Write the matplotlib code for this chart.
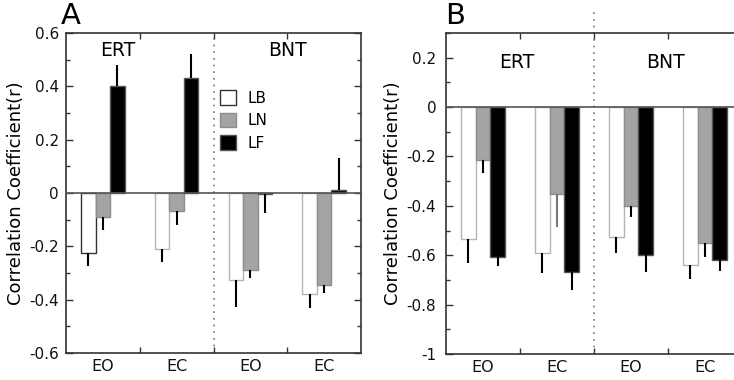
import matplotlib
matplotlib.use("Agg")
import matplotlib.pyplot as plt
import numpy as np

conditions = ["EO", "EC", "EO", "EC"]
tasks = ["ERT", "BNT"]
series = ["LB", "LN", "LF"]

# Panel A values (groups: ERT-EO, ERT-EC, BNT-EO, BNT-EC)
a_LB = [-0.226, -0.21, -0.326, -0.38]
a_LN = [-0.091, -0.066, -0.288, -0.344]
a_LF = [0.40, 0.432, -0.005, 0.012]
a_LB_err = [0.047, 0.05, 0.10, 0.05]
a_LN_err = [0.047, 0.055, 0.03, 0.03]
a_LF_err = [0.08, 0.088, 0.07, 0.12]

# Panel B values
b_LB = [-0.534, -0.59, -0.525, -0.638]
b_LN = [-0.215, -0.354, -0.401, -0.55]
b_LF = [-0.608, -0.666, -0.601, -0.619]
b_LB_err = [0.097, 0.08, 0.065, 0.058]
b_LN_err = [0.05, 0.13, 0.045, 0.058]
b_LF_err = [0.036, 0.073, 0.068, 0.046]

a_ticks = [0.6, 0.4, 0.2, 0, -0.2, -0.4, -0.6]
b_ticks = [0.2, 0, -0.2, -0.4, -0.6, -0.8, -1]

plt.rcParams['font.family'] = ['DejaVu Sans']

W, H = 734, 380
fig = plt.figure(figsize=(W / 100, H / 100), dpi=100)

fill = {"LB": "white", "LN": "#a4a4a4", "LF": "black"}
edge = {"LB": "#b4b4b4", "LN": "#8e8e8e", "LF": "#555555"}
bw = 0.197


def fmt(v):
    if v == 0:
        return "0"
    s = f"{v:.1f}"
    if s.endswith(".0"):
        s = s[:-2]
    return s


def panel(ax, vals, errs, ylim, ticks, txt_pos, dot_top, errcolors=None, edge_over=None):
    ax.set_xlim(0, 4)
    ax.set_ylim(*ylim)
    x = np.arange(4) + 0.5
    for k, s in enumerate(series):
        xs = x + (k - 1) * bw
        ec = [edge[s]] * 4
        if edge_over and s in edge_over:
            for i, c in edge_over[s].items():
                ec[i] = c
        ax.bar(xs, vals[k], width=bw, color=fill[s], edgecolor=ec, linewidth=1.0, zorder=3, label=s)
        for i in range(4):
            v = vals[k][i]
            e = errs[k][i]
            sgn = 1 if v >= 0 else -1
            col = "black"
            if errcolors and (k, i) in errcolors:
                col = errcolors[(k, i)]
            ax.plot([xs[i], xs[i]], [v, v + sgn * e], color=col, lw=1.5, zorder=4, solid_capstyle='butt')
    ax.axhline(0, color="#555555", lw=1.2, zorder=5)
    ax.plot([2, 2], [ylim[0], dot_top], color="#777777", lw=1.2, ls=(0, (1, 3)), clip_on=False, zorder=2)
    ax.set_yticks(ticks)
    ax.set_yticklabels([fmt(t) for t in ticks], fontsize=11, color="#111111")
    mn = np.arange(ylim[0], ylim[1] + 1e-9, 0.1)
    ax.set_yticks(mn, minor=True)
    ax.set_xticks([1, 2, 3])
    ax.set_xticklabels([])
    ax.set_xticks(x, minor=True)
    ax.set_xticklabels(conditions, minor=True, fontsize=11.5)
    ax.tick_params(axis='x', which='minor', length=0, pad=4)
    ax.tick_params(axis='both', which='both', direction='in', top=True, right=True, width=1.0, colors="#333333", labelcolor="#111111")
    ax.tick_params(axis='y', which='major', length=5, pad=5)
    ax.tick_params(axis='y', which='minor', length=3)
    ax.tick_params(axis='x', which='major', length=4)
    for sp in ax.spines.values():
        sp.set_color("#333333")
        sp.set_linewidth(1.2)
    ax.set_ylabel("Correlation Coefficient(r)", fontsize=13, labelpad=3)
    for t, (tx, ty) in zip(tasks, txt_pos):
        ax.text(tx, ty, t, ha="center", va="center", fontsize=13.5)


axA = fig.add_axes([66 / W, (H - 353) / H, 295 / W, 320 / H])
panel(axA, [a_LB, a_LN, a_LF], [a_LB_err, a_LN_err, a_LF_err], (-0.6, 0.6), a_ticks,
      [(0.7, 0.536), (3.0, 0.536)], 0.6, edge_over={"LB": {0: "#333333"}})
axA.legend(loc="upper left", bbox_to_anchor=(0.5, 0.84), frameon=False, fontsize=11,
           handlelength=1.1, handleheight=1.1, handletextpad=0.7, labelspacing=0.45, borderaxespad=0)
fig.text(61 / W, 1 - 16 / H, "A", fontsize=21, va="center", ha="left")

axB = fig.add_axes([446 / W, (H - 354) / H, 296 / W, 321 / H])
panel(axB, [b_LB, b_LN, b_LF], [b_LB_err, b_LN_err, b_LF_err], (-1.0, 0.3), b_ticks,
      [(0.96, 0.181), (2.97, 0.181)], 0.396, errcolors={(1, 1): "#777777"})
axB.tick_params(axis='y', which='major', pad=7)
fig.text(445 / W, 1 - 16 / H, "B", fontsize=21, va="center", ha="left")

fig.savefig("out.png", dpi=100)
